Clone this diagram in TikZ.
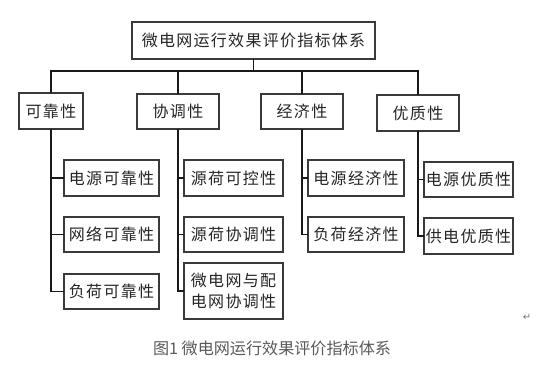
\documentclass[tikz,border=0pt]{standalone}
\usepackage{fontspec}
\setmainfont{Noto Sans CJK SC}
\newfontfamily\boxfont[LetterSpace=8]{Noto Sans CJK SC}
\newfontfamily\symfont{DejaVu Sans}
\definecolor{boxline}{HTML}{3A3A3A}
\definecolor{captiongray}{HTML}{5A5A5A}
\tikzset{
  box/.style={draw=boxline, line width=1.3pt, fill=white, inner sep=0pt, outer sep=0pt,
    font=\boxfont\fontsize{16}{20.5}\selectfont, text=black!85, align=center},
  conn/.style={draw=black!90, line width=1.3pt},
}
\begin{document}
\begin{tikzpicture}[x=1pt,y=-1pt]
\useasboundingbox[fill=white] (0,0) rectangle (537,371);
\node[box, minimum width=243pt, minimum height=37pt] (root) at (253.5,40.5) {微电网运行效果评价指标体系};
\coordinate (bus) at (253,71);
% level 2
\node[box, minimum width=64pt, minimum height=36pt] (A) at (51,111) {可靠性};
\node[box, minimum width=82pt, minimum height=35pt] (B) at (178,111.5) {协调性};
\node[box, minimum width=82pt, minimum height=35pt] (C) at (302,111.5) {经济性};
\node[box, minimum width=82pt, minimum height=36pt] (D) at (418,113) {优质性};
% level 3
\node[box, minimum width=95pt, minimum height=36pt] (A1) at (111.5,178) {电源可靠性};
\node[box, minimum width=95pt, minimum height=35pt] (A2) at (111.5,234.5) {网络可靠性};
\node[box, minimum width=95pt, minimum height=35pt] (A3) at (111.5,291.5) {负荷可靠性};
\node[box, minimum width=99pt, minimum height=36pt] (B1) at (233.5,178) {源荷可控性};
\node[box, minimum width=99pt, minimum height=35pt] (B2) at (233.5,234.5) {源荷协调性};
\node[box, minimum width=99pt, minimum height=56pt] (B3) at (233.5,291) {微电网与配\\电网协调性};
\node[box, minimum width=96pt, minimum height=36pt] (C1) at (356,178) {电源经济性};
\node[box, minimum width=96pt, minimum height=35pt] (C2) at (356,234.5) {负荷经济性};
\node[box, minimum width=89pt, minimum height=35pt] (D1) at (468.5,179.5) {电源优质性};
\node[box, minimum width=89pt, minimum height=36pt] (D2) at (468.5,236) {供电优质性};
% connectors top
\foreach \n in {A,B,C,D}
  \draw[conn] (root.south) -- (root.south |- bus) -| (\n.north);
% connectors to level 3
\draw[conn] (A.south) |- (A1.west);
\draw[conn] (A.south) |- (A2.west);
\draw[conn] (A.south) |- (A3.west);
\draw[conn] (B.south) |- (B1.west);
\draw[conn] (B.south) |- (B2.west);
\draw[conn] (B.south) |- (B3.west);
\draw[conn] (C.south) |- (C1.west);
\draw[conn] (C.south) |- (C2.west);
\draw[conn] (D.south) |- (D1.west);
\draw[conn] (D.south) |- (D2.west);
% caption and paragraph mark
\node[font=\fontsize{16.1}{18}\selectfont, text=captiongray, inner sep=0pt] (cap) at (272,348) {图1 微电网运行效果评价指标体系};
\node[font=\symfont\fontsize{10}{10}\selectfont, text=black!55, inner sep=0pt] (pmark) at (527,317) {↵};
\end{tikzpicture}
\end{document}
